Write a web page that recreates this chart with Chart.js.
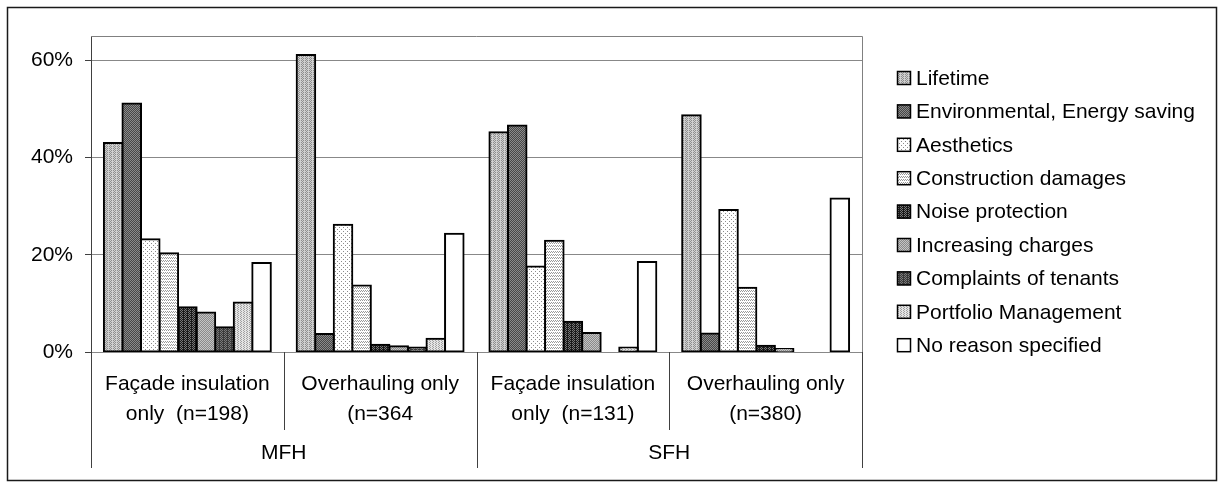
<!DOCTYPE html>
<html>
<head>
<meta charset="utf-8">
<script src="https://cdn.jsdelivr.net/npm/chart.js@4.4.1/dist/chart.umd.min.js"></script>
<style>
  html, body { margin: 0; padding: 0; background: #fff; }
  #wrap { width: 1224px; height: 488px; }
</style>
</head>
<body>
<div id="wrap"><canvas id="c" width="1224" height="488"></canvas></div>
<script>
// Categories (two-line labels) and their building-type groups
const categories = [
  ['Façade insulation', 'only  (n=198)'],
  ['Overhauling only', '(n=364'],
  ['Façade insulation', 'only  (n=131)'],
  ['Overhauling only', '(n=380)']
];
const groups = ['MFH', 'SFH'];
const yTicks = [0, 20, 40, 60];

const seriesNames = [
  'Lifetime', 'Environmental, Energy saving', 'Aesthetics', 'Construction damages',
  'Noise protection', 'Increasing charges', 'Complaints of tenants',
  'Portfolio Management', 'No reason specified'
];

// Share of answers in percent, one value per category
const lifetime      = [43.0, 61.1, 45.2, 48.7];
const environmental = [51.1, 3.7, 46.6, 3.8];
const aesthetics    = [23.2, 26.2, 17.6, 29.2];
const construction  = [20.3, 13.7, 22.9, 13.2];
const noise         = [9.2, 1.5, 6.2, 1.3];
const increasing    = [8.1, 1.2, 3.9, 0.6];
const complaints    = [5.1, 0.9, 0, 0];
const portfolio     = [10.2, 2.7, 0.9, 0];
const noReason      = [18.3, 24.3, 18.5, 31.6];

const seriesValues = [lifetime, environmental, aesthetics, construction, noise,
                      increasing, complaints, portfolio, noReason];

const FONT = '"Liberation Sans", Arial, sans-serif';

// Small dotted fill textures in grey tones
function makePattern(base, dot, w, h, dots) {
  const c = document.createElement('canvas');
  c.width = w; c.height = h;
  const g = c.getContext('2d');
  g.fillStyle = base;
  g.fillRect(0, 0, w, h);
  g.fillStyle = dot;
  dots.forEach(([x, y]) => g.fillRect(x, y, 1, 1));
  return g.createPattern(c, 'repeat');
}
const ctx = document.getElementById('c').getContext('2d');
const fills = [
  makePattern('#8e8e8e', '#cfcfcf', 4, 2, [[0,0],[2,0],[1,1],[3,1],[0,1]]),
  makePattern('#474747', '#8a8a8a', 4, 2, [[0,0],[2,0],[1,1],[3,1]]),
  makePattern('#ffffff', '#8c8c8c', 4, 4, [[1,1],[3,3]]),
  makePattern('#ffffff', '#9a9a9a', 2, 3, [[0,0],[1,2]]),
  makePattern('#1a1a1a', '#777777', 4, 2, [[0,0],[2,0],[1,1]]),
  makePattern('#8a8a8a', '#c4c4c4', 4, 2, [[0,0],[2,0],[1,1],[3,1]]),
  makePattern('#3a3a3a', '#7a7a7a', 4, 2, [[0,0],[2,0],[1,1]]),
  makePattern('#e4e4e4', '#a0a0a0', 3, 2, [[0,0],[1,1]]),
  '#ffffff'
];

// Outer frame of the figure
const framePlugin = {
  id: 'frame',
  beforeDraw(chart) {
    const g = chart.ctx;
    g.save();
    g.fillStyle = '#ffffff';
    g.fillRect(0, 0, chart.width, chart.height);
    g.strokeStyle = '#1a1a1a';
    g.lineWidth = 1.5;
    g.strokeRect(7.5, 7.5, 1209, 473);
    g.restore();
  },
  beforeDatasetsDraw(chart) {
    const a = chart.chartArea;
    const g = chart.ctx;
    g.save();
    g.strokeStyle = '#808080';
    g.lineWidth = 1;
    g.beginPath();
    g.moveTo(a.left, a.top + 0.5);
    g.lineTo(a.right + 0.5, a.top + 0.5);
    g.lineTo(a.right + 0.5, a.bottom);
    g.stroke();
    g.restore();
  }
};

// Two-level category axis: category labels, group labels and separators
const groupAxisPlugin = {
  id: 'groupAxis',
  afterDraw(chart) {
    const a = chart.chartArea;
    const xs = chart.scales.x;
    const g = chart.ctx;
    const n = categories.length;
    const step = (a.right - a.left) / n;
    g.save();
    g.strokeStyle = '#404040';
    g.lineWidth = 1;
    for (let i = 0; i <= n; i++) {
      const x = Math.round(a.left + i * step) + 0.5;
      const long = (i % 2 === 0);
      g.beginPath();
      g.moveTo(x, a.bottom);
      g.lineTo(x, long ? 468 : 430);
      g.stroke();
    }
    g.fillStyle = '#000';
    g.textAlign = 'center';
    g.textBaseline = 'middle';
    g.font = '21px ' + FONT;
    categories.forEach((lines, i) => {
      const cx = xs.getPixelForValue(i);
      lines.forEach((t, j) => g.fillText(t, cx, 384 + j * 30));
    });
    groups.forEach((t, k) => {
      const cx = a.left + (2 * k + 1) * step;
      g.fillText(t, cx, 453);
    });
    g.restore();
  }
};

// Legend column on the right
const legendPlugin = {
  id: 'sideLegend',
  afterDraw(chart) {
    const g = chart.ctx;
    g.save();
    g.font = '21px ' + FONT;
    g.textBaseline = 'middle';
    g.textAlign = 'left';
    chart.data.datasets.forEach((ds, i) => {
      const y = 78 + i * 33.4;
      g.fillStyle = ds.backgroundColor;
      g.fillRect(897, y - 7, 14, 14);
      g.strokeStyle = '#000';
      g.lineWidth = 1.5;
      g.strokeRect(897.5, y - 6.5, 13, 13);
      g.fillStyle = '#000';
      g.fillText(ds.label, 916, y + 1);
    });
    g.restore();
  }
};

new Chart(ctx, {
  type: 'bar',
  data: {
    labels: categories,
    datasets: seriesNames.map((name, i) => ({
      label: name,
      data: seriesValues[i],
      backgroundColor: fills[i],
      borderColor: '#000000',
      borderWidth: 2,
      borderSkipped: false,
      inflateAmount: 1,
      categoryPercentage: 0.866,
      barPercentage: 1.0
    }))
  },
  options: {
    responsive: false,
    devicePixelRatio: 1,
    animation: false,
    layout: { padding: { left: 0, top: 36, right: 362, bottom: 136 } },
    plugins: { legend: { display: false }, tooltip: { enabled: false } },
    scales: {
      x: { display: false, offset: true, grid: { display: false } },
      y: {
        min: 0, max: 65,
        afterFit(scale) { scale.width = 91; },
        afterBuildTicks(scale) { scale.ticks = yTicks.map(v => ({ value: v })); },
        ticks: {
          callback: v => v + '%',
          font: { family: FONT, size: 21 },
          color: '#000',
          padding: 12
        },
        grid: { color: '#888888', lineWidth: 1, tickLength: 6, tickColor: '#404040' },
        border: { display: true, color: '#404040', width: 1 }
      }
    }
  },
  plugins: [framePlugin, groupAxisPlugin, legendPlugin]
});
</script>
</body>
</html>
